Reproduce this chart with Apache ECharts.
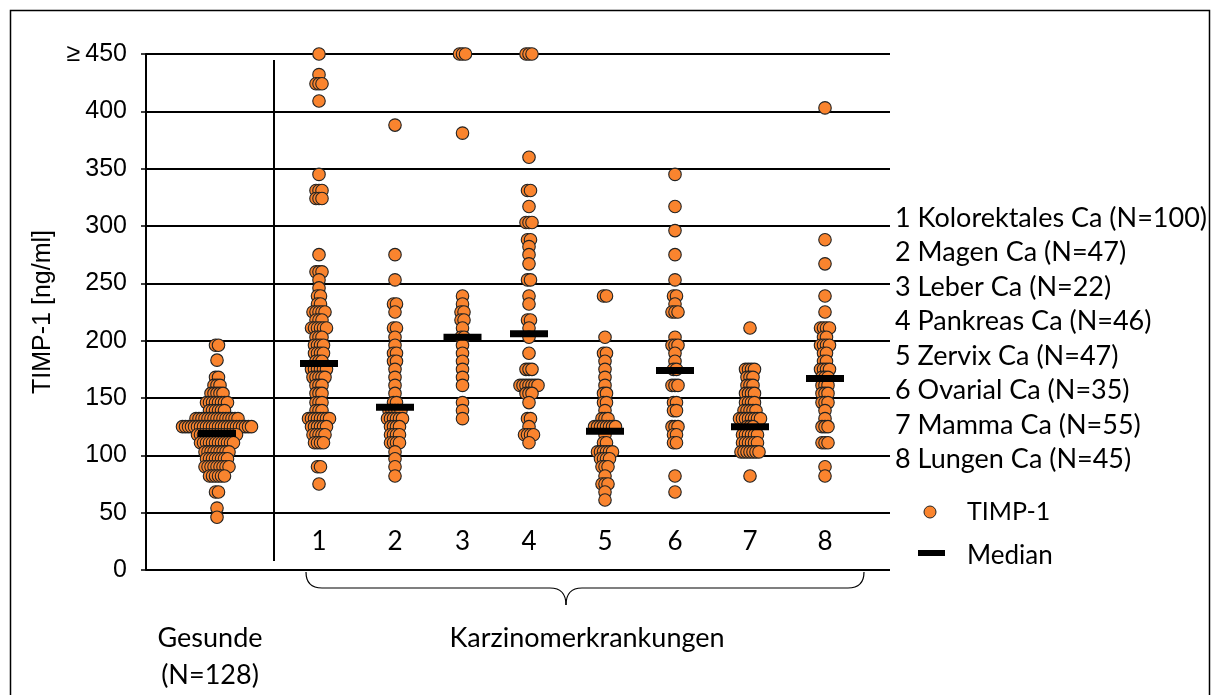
<!DOCTYPE html>
<html>
<head>
<meta charset="utf-8">
<script src="https://cdn.jsdelivr.net/npm/echarts@6/dist/echarts.min.js"></script>
<style>
html,body{margin:0;padding:0;background:#fff;}
#main{width:1218px;height:695px;}
</style>
</head>
<body>
<div id="main"></div>
<script>
// ---- data (TIMP-1, ng/ml; values >=450 shown at 450) ----
const groupLabels = ['Gesunde', '1', '2', '3', '4', '5', '6', '7', '8'];
const gesunde = [196,196,183,168,168,161,161,161,154,154,154,154,154,
  146,146,146,146,146,146,146,146,139,139,139,139,139,139,
  132,132,132,132,132,132,132,132,132,132,132,132,132,132,132,
  125,125,125,125,125,125,125,125,125,125,125,125,125,125,125,125,125,125,125,125,125,125,125,125,
  118,118,118,118,118,118,118,118,118,118,118,118,118,118,
  111,111,111,111,111,111,111,111,111,111,111,111,
  103,103,103,103,103,103,103,103,103,
  97,97,97,97,97,97,97,97,
  90,90,90,90,90,90,90,90,90,
  82,82,82,82,82,82,68,68,54,46];
const ca1 = [450,432,424,424,424,409,345,331,331,331,324,324,324,275,
  260,260,260,253,246,239,239,232,232,225,225,225,225,225,218,218,218,
  211,211,211,211,211,211,203,203,203,196,196,196,196,189,189,189,189,
  182,182,182,175,175,175,175,175,175,168,168,168,168,168,161,161,161,
  154,154,154,146,146,146,139,139,139,132,132,132,132,132,132,132,132,
  125,125,125,125,125,125,118,118,118,118,118,111,111,111,111,90,90,75];
const ca2 = [388,275,253,232,232,225,211,211,203,196,189,189,182,182,175,168,161,154,
  146,146,139,139,139,139,139,132,132,132,132,132,132,125,125,125,125,
  118,118,118,118,111,111,111,111,103,97,90,82];
const ca3 = [450,450,450,381,239,232,225,225,218,218,211,203,203,196,189,182,175,168,161,146,139,132];
const ca4 = [450,450,450,360,331,331,317,303,303,303,288,288,282,275,267,253,253,239,232,
  218,218,211,203,189,175,175,175,161,161,161,161,161,161,161,154,154,154,146,
  132,132,125,118,118,118,118,111];
const ca5 = [239,239,203,189,189,182,175,168,161,154,154,146,146,139,132,132,132,
  125,125,125,125,125,125,125,125,118,111,111,103,103,103,103,103,103,
  97,97,97,97,90,90,90,82,75,75,75,68,61];
const ca6 = [345,317,296,275,253,239,239,232,225,225,225,203,196,196,196,189,182,175,175,
  161,161,161,146,146,139,139,125,125,125,118,118,111,111,82,68];
const ca7 = [211,175,175,175,175,168,168,168,161,161,161,154,154,154,154,146,146,146,146,
  139,139,139,139,139,132,132,132,132,132,132,132,132,125,125,125,
  118,118,118,118,118,118,111,111,111,111,111,111,103,103,103,103,103,103,103,82];
const ca8 = [403,288,267,239,225,211,211,211,211,203,203,196,196,196,196,189,189,182,182,
  175,175,175,175,168,168,168,161,161,161,154,154,154,146,146,146,139,132,
  125,125,125,111,111,111,90,82];
const medians = [119, 180, 142, 203, 206, 121, 174, 125, 167];
const legendLines = ['1 Kolorektales Ca (N=100)', '2 Magen Ca (N=47)', '3 Leber Ca (N=22)',
  '4 Pankreas Ca (N=46)', '5 Zervix Ca (N=47)', '6 Ovarial Ca (N=35)',
  '7 Mamma Ca (N=55)', '8 Lungen Ca (N=45)'];
const yTicks = [0, 50, 100, 150, 200, 250, 300, 350, 400, 450];

// ---- layout (x axis is a hidden linear axis measured in pixels from the y axis) ----
const groups = [gesunde, ca1, ca2, ca3, ca4, ca5, ca6, ca7, ca8];
const centers = [71, 173, 249, 316.5, 383, 459, 529, 604, 679];
const STEP = 3.0;

function swarm(values, cx) {
  const counts = {};
  values.forEach(v => { counts[v] = (counts[v] || 0) + 1; });
  const seen = {};
  return values.map(v => {
    const n = counts[v];
    const k = seen[v] || 0;
    seen[v] = k + 1;
    return [cx + (k - (n - 1) / 2) * STEP, v];
  });
}
let dots = [];
groups.forEach((g, i) => { dots = dots.concat(swarm(g, centers[i])); });
const medianData = medians.map((m, i) => [centers[i], m]);
const labelData = groupLabels.slice(1).map((l, i) => ({ value: [centers[i + 1], 25], name: l }));

const ORANGE = '#FA842E';
const LEG_FONT = 'Lato, "Open Sans", sans-serif';
const AX_FONT = '"Liberation Sans", Arial, sans-serif';

function txt(x, y, t, align, size) {
  return { type: 'text', x: x, y: y, silent: true,
    style: { text: t, font: (size || 27) + 'px ' + LEG_FONT, fill: '#000', textAlign: align || 'left', textVerticalAlign: 'middle' } };
}
function seg(x1, y1, x2, y2) {
  return { type: 'line', silent: true, shape: { x1, y1, x2, y2 }, style: { stroke: '#000', lineWidth: 1.2 } };
}
function curve(x1, y1, cx, cy, x2, y2) {
  return { type: 'bezierCurve', silent: true, shape: { x1, y1, cpx1: cx, cpy1: cy, x2, y2 }, style: { stroke: '#000', lineWidth: 1.2, fill: 'none' } };
}

const graphics = [
  { type: 'rect', silent: true, shape: { x: 10.5, y: 10.5, width: 1199, height: 700 }, style: { fill: 'none', stroke: '#000', lineWidth: 1.5 } },
  { type: 'line', silent: true, shape: { x1: 274, y1: 60, x2: 274, y2: 561 }, style: { stroke: '#000', lineWidth: 2 } },
  curve(306, 572, 306, 588, 322, 588),
  seg(322, 588, 550, 588),
  curve(550, 588, 566, 588, 566, 605),
  curve(566, 605, 566, 588, 582, 588),
  seg(582, 588, 848, 588),
  curve(848, 588, 864, 588, 864, 572),
  txt(210, 638, 'Gesunde', 'center'),
  txt(210, 675, '(N=128)', 'center'),
  txt(587, 638, 'Karzinomerkrankungen', 'center'),
  { type: 'circle', silent: true, shape: { cx: 930, cy: 512, r: 6 }, style: { fill: ORANGE, stroke: '#222', lineWidth: 1 } },
  txt(967, 512, 'TIMP-1', 'left', 25),
  { type: 'rect', silent: true, shape: { x: 918, y: 550, width: 27, height: 6 }, style: { fill: '#000' } },
  txt(967, 556, 'Median', 'left', 26)
];
legendLines.forEach((t, i) => { graphics.push(txt(895, 218 + i * 34.5, t)); });

const chart = echarts.init(document.getElementById('main'), null, { renderer: 'canvas' });
chart.setOption({
  animation: false,
  backgroundColor: '#fff',
  grid: { left: 146, top: 54, width: 744, height: 516, containLabel: false },
  xAxis: { type: 'value', min: 0, max: 744, show: false },
  yAxis: {
    type: 'value', min: 0, max: 450, interval: 50,
    name: 'TIMP-1 [ng/ml]', nameLocation: 'middle', nameGap: 90, nameRotate: 90,
    nameTextStyle: { fontFamily: AX_FONT, fontSize: 25, color: '#000' },
    axisLine: { show: true, lineStyle: { color: '#000', width: 2 } },
    axisTick: { show: true, inside: false, length: 5, lineStyle: { color: '#000', width: 1.5 } },
    axisLabel: { margin: 19, fontFamily: AX_FONT, fontSize: 25, color: '#000',
      formatter: v => (v === yTicks[yTicks.length - 1] ? '\u2265\u2009' + v : String(v)) },
    splitLine: { show: true, lineStyle: { color: '#000', width: 2 } }
  },
  series: [
    { name: 'TIMP-1', type: 'scatter', data: dots, symbol: 'circle', symbolSize: 12.5,
      itemStyle: { color: ORANGE, borderColor: '#222', borderWidth: 1.1, opacity: 1 }, z: 3 },
    { name: 'Median', type: 'scatter', data: medianData, symbol: 'rect', symbolSize: [38, 7],
      itemStyle: { color: '#000', opacity: 1 }, z: 4 },
    { name: 'labels', type: 'scatter', data: labelData, symbolSize: 0, silent: true,
      itemStyle: { opacity: 1 },
      label: { show: true, position: 'inside', formatter: p => p.name, fontFamily: LEG_FONT, fontSize: 26, color: '#000' } }
  ],
  graphic: graphics
});
</script>
</body>
</html>
